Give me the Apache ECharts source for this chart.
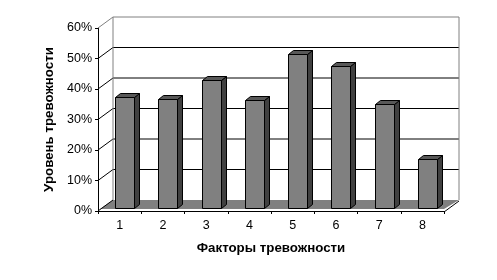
<!DOCTYPE html>
<html>
<head>
<meta charset="utf-8">
<script src="https://cdn.jsdelivr.net/npm/echarts@6/dist/echarts.min.js"></script>
<style>html,body{margin:0;padding:0;background:#fff}#c{width:497px;height:280px}</style>
</head>
<body>
<div id="c"></div>
<script>
const categories = ['1', '2', '3', '4', '5', '6', '7', '8'];
const values = [36.4, 35.7, 42.0, 35.4, 50.5, 46.6, 34.1, 16.1];
const yTicks = [0, 10, 20, 30, 40, 50, 60];
const xTitle = 'Факторы тревожности';
const yTitle = 'Уровень тревожности';

// 3D look constants
const DX = 15, DY = -11;      // depth of the box
const BDX = 5, BDY = -3;      // bar front face offset into the box
const SDX = 5, SDY = -4;      // bar depth
const FONT = 'Liberation Sans, Arial, sans-serif';

const chart = echarts.init(document.getElementById('c'), null, {renderer: 'canvas'});

function wallItem(params, api) {
  const cs = params.coordSys;
  const x0 = cs.x, x1 = cs.x + cs.width;
  const y0 = api.coord([0, 0])[1];
  const kids = [];
  kids.push({type: 'polygon', shape: {points: [[x0 + 2, y0 - 2], [x1, y0 - 2], [x1 + DX, y0 + DY], [x0 + DX, y0 + DY]]},
    style: {fill: '#808080', stroke: null}});
  const top = yTicks[yTicks.length - 1];
  yTicks.forEach(function (t) {
    const y = api.coord([0, t])[1];
    const col = t === top ? '#808080' : '#000';
    if (t !== 0) {
      kids.push({type: 'line', shape: {x1: x0 + DX, y1: y + DY, x2: x1 + DX, y2: y + DY}, style: {stroke: col, lineWidth: 1}});
    }
    kids.push({type: 'line', shape: {x1: x0, y1: y, x2: x0 + DX, y2: y + DY}, style: {stroke: col, lineWidth: 1}});
  });
  const yt = api.coord([0, top])[1];
  kids.push({type: 'line', shape: {x1: x0 + DX, y1: y0 + DY, x2: x0 + DX, y2: yt + DY}, style: {stroke: '#808080', lineWidth: 1}});
  kids.push({type: 'line', shape: {x1: x1 + DX, y1: y0 + DY, x2: x1 + DX, y2: yt + DY}, style: {stroke: '#808080', lineWidth: 1}});
  kids.push({type: 'line', shape: {x1: x1, y1: y0 + 1, x2: x1 + DX, y2: y0 + DY + 1}, style: {stroke: '#000', lineWidth: 1}});
  return {type: 'group', children: kids};
}

function barItem(params, api) {
  const c = api.value(0);
  const top = api.coord([c, api.value(1)]);
  const base = api.coord([c, 0]);
  const w = api.size([1, 0])[0] * 0.44;
  const lx = Math.round(top[0] - w / 2 + BDX) + 0.5;
  const rx = Math.round(top[0] + w / 2 + BDX) + 0.5;
  const ty = Math.round(top[1] + BDY) + 0.5;
  const by = Math.round(base[1] + BDY) + 0.5;
  const st = {stroke: '#000', lineWidth: 1, lineJoin: 'miter'};
  return {type: 'group', children: [
    {type: 'polygon', shape: {points: [[rx, ty], [rx + SDX, ty + SDY], [rx + SDX, by + SDY], [rx, by]]},
      style: Object.assign({fill: '#404040'}, st)},
    {type: 'polygon', shape: {points: [[lx, ty], [lx + SDX, ty + SDY], [rx + SDX, ty + SDY], [rx, ty]]},
      style: Object.assign({fill: '#585858'}, st)},
    {type: 'rect', shape: {x: lx, y: ty, width: rx - lx, height: by - ty},
      style: Object.assign({fill: '#808080'}, st)}
  ]};
}

chart.setOption({
  animation: false,
  backgroundColor: '#fff',
  grid: {left: 98, right: 53, top: 28, bottom: 69},
  xAxis: {
    type: 'category', data: categories, boundaryGap: true,
    axisLine: {lineStyle: {color: '#000', width: 1}},
    axisTick: {show: true, length: 3, lineStyle: {color: '#000'}},
    axisLabel: {color: '#000', fontFamily: FONT, fontSize: 12.5, margin: 8},
    name: xTitle, nameLocation: 'middle', nameGap: 31,
    nameTextStyle: {color: '#000', fontFamily: FONT, fontSize: 13.3, fontWeight: 'bold'}
  },
  yAxis: {
    type: 'value', min: 0, max: 60, interval: 10,
    axisLine: {show: true, lineStyle: {color: '#000', width: 1}},
    axisTick: {show: true, length: 3, lineStyle: {color: '#000'}},
    splitLine: {show: false},
    axisLabel: {color: '#000', fontFamily: FONT, fontSize: 12.5, margin: 6, formatter: '{value}%'},
    name: yTitle, nameLocation: 'middle', nameGap: 41, nameRotate: 90,
    nameTextStyle: {color: '#000', fontFamily: FONT, fontSize: 13.3, fontWeight: 'bold'}
  },
  series: [
    {type: 'custom', renderItem: wallItem, data: [[0, 0]], z: 1, silent: true, clip: false},
    {type: 'custom', renderItem: barItem, data: values.map(function (v, i) { return [i, v]; }), z: 3, clip: false}
  ]
});
</script>
</body>
</html>
